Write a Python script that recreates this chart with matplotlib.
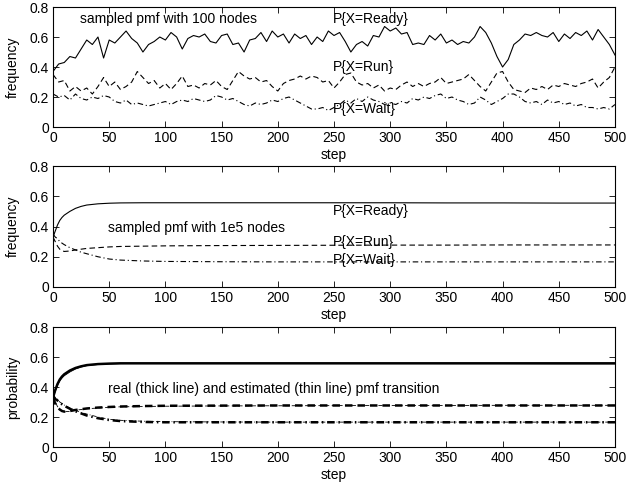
import numpy as np
import matplotlib
matplotlib.use("Agg")
from matplotlib import pyplot as plt

plt.rcParams['font.family'] = ['Liberation Sans', 'DejaVu Sans']
plt.rcParams['font.size'] = 10

# top panel: sampled pmf with 100 nodes, read every 5 steps
steps_100 = np.arange(0, 501, 5)
ready_100 = [0.37, 0.42, 0.43, 0.47, 0.46, 0.52, 0.58, 0.55, 0.60, 0.46,
             0.58, 0.56, 0.60, 0.64, 0.59, 0.56, 0.50, 0.55, 0.57, 0.60,
             0.58, 0.63, 0.60, 0.52, 0.59, 0.61, 0.60, 0.62, 0.57, 0.56,
             0.61, 0.62, 0.55, 0.56, 0.50, 0.58, 0.59, 0.63, 0.57, 0.64,
             0.60, 0.62, 0.56, 0.62, 0.59, 0.61, 0.55, 0.60, 0.57, 0.64,
             0.61, 0.63, 0.57, 0.50, 0.55, 0.57, 0.54, 0.61, 0.60, 0.67,
             0.64, 0.66, 0.62, 0.63, 0.55, 0.56, 0.55, 0.61, 0.58, 0.62,
             0.56, 0.58, 0.55, 0.57, 0.56, 0.60, 0.67, 0.63, 0.56, 0.47,
             0.40, 0.45, 0.55, 0.58, 0.62, 0.61, 0.63, 0.61, 0.60, 0.63,
             0.57, 0.62, 0.59, 0.63, 0.61, 0.64, 0.58, 0.65, 0.60, 0.55,
             0.48]
run_100 = [0.35, 0.30, 0.31, 0.24, 0.27, 0.24, 0.26, 0.22, 0.27, 0.33,
           0.27, 0.30, 0.25, 0.27, 0.30, 0.37, 0.33, 0.29, 0.31, 0.26,
           0.29, 0.25, 0.29, 0.34, 0.27, 0.28, 0.26, 0.29, 0.28, 0.31,
           0.27, 0.25, 0.31, 0.37, 0.34, 0.32, 0.33, 0.30, 0.31, 0.27,
           0.24, 0.29, 0.31, 0.32, 0.34, 0.32, 0.34, 0.33, 0.30, 0.31,
           0.26, 0.30, 0.35, 0.36, 0.30, 0.28, 0.29, 0.26, 0.28, 0.24,
           0.26, 0.25, 0.28, 0.30, 0.27, 0.29, 0.27, 0.29, 0.30, 0.33,
           0.29, 0.30, 0.31, 0.32, 0.35, 0.31, 0.27, 0.24, 0.30, 0.36,
           0.37, 0.30, 0.25, 0.24, 0.23, 0.26, 0.25, 0.27, 0.25, 0.28,
           0.27, 0.29, 0.28, 0.27, 0.29, 0.30, 0.32, 0.26, 0.30, 0.33,
           0.40]
wait_100 = [0.22, 0.20, 0.21, 0.18, 0.22, 0.19, 0.18, 0.20, 0.19, 0.21,
            0.20, 0.17, 0.16, 0.18, 0.15, 0.16, 0.15, 0.14, 0.15, 0.16,
            0.17, 0.15, 0.17, 0.18, 0.17, 0.19, 0.18, 0.17, 0.18, 0.21,
            0.20, 0.18, 0.19, 0.17, 0.15, 0.14, 0.16, 0.15, 0.16, 0.18,
            0.17, 0.19, 0.20, 0.18, 0.16, 0.14, 0.12, 0.12, 0.13, 0.11,
            0.13, 0.15, 0.18, 0.16, 0.19, 0.17, 0.20, 0.18, 0.17, 0.15,
            0.16, 0.15, 0.17, 0.16, 0.19, 0.18, 0.20, 0.19, 0.21, 0.22,
            0.19, 0.20, 0.18, 0.17, 0.15, 0.16, 0.20, 0.18, 0.15, 0.17,
            0.19, 0.22, 0.22, 0.20, 0.17, 0.16, 0.17, 0.15, 0.18, 0.16,
            0.17, 0.15, 0.16, 0.14, 0.15, 0.13, 0.13, 0.12, 0.13, 0.12,
            0.15]

# middle panel: sampled pmf with 1e5 nodes (also the estimate in the bottom panel)
steps_s = [0, 2, 4, 6, 8, 10, 15, 20, 25, 30, 40, 50, 60, 80, 100,
           150, 200, 250, 300, 350, 400, 450, 500]
ready_1e5 = [0.33, 0.37, 0.41, 0.44, 0.46, 0.475, 0.50, 0.52, 0.533, 0.542,
             0.55, 0.554, 0.556, 0.557, 0.557, 0.557, 0.557, 0.557, 0.557,
             0.556, 0.556, 0.555, 0.555]
run_1e5 = [0.33, 0.30, 0.27, 0.25, 0.24, 0.235, 0.238, 0.245, 0.25, 0.255,
           0.26, 0.265, 0.268, 0.27, 0.272, 0.274, 0.275, 0.276, 0.277,
           0.277, 0.278, 0.278, 0.278]
wait_1e5 = [0.35, 0.33, 0.32, 0.30, 0.29, 0.28, 0.26, 0.245, 0.23, 0.22,
            0.2, 0.185, 0.178, 0.172, 0.169, 0.167, 0.166, 0.166, 0.166,
            0.166, 0.166, 0.166, 0.166]

# bottom panel: real pmf transition (thick)
ready_real = [0.33, 0.38, 0.42, 0.45, 0.47, 0.485, 0.51, 0.527, 0.538, 0.546,
              0.553, 0.556, 0.558, 0.558, 0.558, 0.558, 0.558, 0.558, 0.558,
              0.558, 0.558, 0.558, 0.558]
run_real = [0.33, 0.29, 0.265, 0.25, 0.24, 0.236, 0.24, 0.247, 0.252, 0.257,
            0.263, 0.267, 0.27, 0.273, 0.275, 0.276, 0.277, 0.277, 0.277,
            0.277, 0.277, 0.277, 0.277]
wait_real = [0.34, 0.32, 0.31, 0.295, 0.285, 0.275, 0.255, 0.238, 0.224, 0.21,
             0.192, 0.18, 0.173, 0.167, 0.165, 0.165, 0.165, 0.165, 0.165,
             0.165, 0.165, 0.165, 0.165]

xticks = [0, 50, 100, 150, 200, 250, 300, 350, 400, 450, 500]
yticks = [0, 0.2, 0.4, 0.6, 0.8]
ytick_labels = ['0', '0.2', '0.4', '0.6', '0.8']

DASH = (0, (5, 3))
DASHDOT = (0, (5, 2.5, 1, 2.5))


def style_axes(ax, ylabel):
    ax.set_xlim(0, 500)
    ax.set_ylim(0, 0.8)
    ax.set_xticks(xticks)
    ax.set_yticks(yticks)
    ax.set_yticklabels(ytick_labels)
    ax.tick_params(direction='in', top=True, right=True, length=4, width=0.6,
                   pad=3, labelsize=10)
    for s in ax.spines.values():
        s.set_linewidth(0.8)
    ax.set_xlabel('step', labelpad=2)
    ax.set_ylabel(ylabel, labelpad=7)


fig = plt.figure(figsize=(6.41, 4.87), dpi=100)
left, width = 0.0827, 0.8767
ax1 = fig.add_axes([left, 0.7392, width, 0.2464])
ax2 = fig.add_axes([left, 0.4107, width, 0.2484])
ax3 = fig.add_axes([left, 0.0821, width, 0.2464])

ax1.plot(steps_100, ready_100, color='k', lw=0.8, ls='-')
ax1.plot(steps_100, run_100, color='k', lw=0.8, ls=DASH)
ax1.plot(steps_100, wait_100, color='k', lw=0.8, ls=DASHDOT)
ax1.text(24, 0.72, 'sampled pmf with 100 nodes', va='center')
ax1.text(249, 0.72, 'P{X=Ready}', va='center')
ax1.text(249, 0.40, 'P{X=Run}', va='center')
ax1.text(249, 0.12, 'P{X=Wait}', va='center')
style_axes(ax1, 'frequency')

ax2.plot(steps_s, ready_1e5, color='k', lw=0.8, ls='-')
ax2.plot(steps_s, run_1e5, color='k', lw=0.8, ls=DASH)
ax2.plot(steps_s, wait_1e5, color='k', lw=0.8, ls=DASHDOT)
ax2.text(49, 0.39, 'sampled pmf with 1e5 nodes', va='center')
ax2.text(249, 0.50, 'P{X=Ready}', va='center')
ax2.text(249, 0.295, 'P{X=Run}', va='center')
ax2.text(249, 0.18, 'P{X=Wait}', va='center')
style_axes(ax2, 'frequency')

ax3.plot(steps_s, ready_real, color='k', lw=1.8, ls='-')
ax3.plot(steps_s, run_real, color='k', lw=1.8, ls=(0, (3, 2)))
ax3.plot(steps_s, wait_real, color='k', lw=1.8, ls=(0, (3, 1.5, 0.6, 1.5)))
ax3.plot(steps_s, ready_1e5, color='k', lw=0.6, ls='-')
ax3.plot(steps_s, run_1e5, color='k', lw=0.6, ls=DASH)
ax3.plot(steps_s, wait_1e5, color='k', lw=0.6, ls=DASHDOT)
ax3.text(49, 0.39, 'real (thick line) and estimated (thin line) pmf transition', va='center')
style_axes(ax3, 'probability')

fig.savefig('out.png', dpi=100)
